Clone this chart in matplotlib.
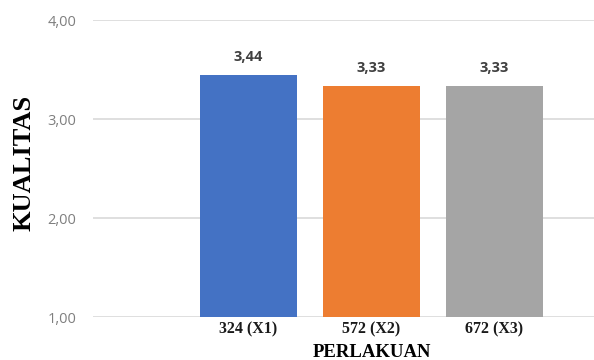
import matplotlib.pyplot as plt

# nilai rata-rata kualitas tiap perlakuan
perlakuan = ['324 (X1)', '572 (X2)', '672 (X3)']
kualitas = [3.44, 3.33, 3.33]
warna = ['#4472C4', '#ED7D31', '#A5A5A5']
yticks = [1, 2, 3, 4]

fig = plt.figure(figsize=(5.94, 3.6), dpi=100)
ax = fig.add_axes([0.1566, 0.1194, 0.8434, 0.825])

x = list(range(len(perlakuan)))
bars = ax.bar(x, kualitas, width=0.79, color=warna, bottom=0, zorder=2)

ax.set_ylim(1, 4)
ax.set_xlim(-1.264, 2.81)
ax.set_yticks(yticks)
ax.set_yticklabels([f'{v:.2f}'.replace('.', ',') for v in yticks],
                   fontsize=10.5, color='#7F7F7F', family='Open Sans')
ax.tick_params(axis='y', length=0, pad=12)
ax.grid(axis='y', color='#D9D9D9', linewidth=1.2, zorder=0)
for s in ax.spines.values():
    s.set_visible(False)

ax.set_xticks(x)
ax.set_xticklabels(perlakuan, fontsize=11.5, fontweight='bold',
                   family='Liberation Serif', color='#1a1a1a')
ax.tick_params(axis='x', length=0, pad=3)

# label nilai di atas batang
for xi, v in zip(x, kualitas):
    ax.annotate(f'{v:.2f}'.replace('.', ','), (xi, v), xytext=(0, 8),
                textcoords='offset points', ha='center', va='bottom',
                fontsize=10.5, fontweight='bold', color='#404040', family='Open Sans')

fig.text(0.04, 0.547, 'KUALITAS', rotation=90, ha='center', va='center',
         fontsize=19, fontweight='bold', family='Liberation Serif')
fig.text(0.627, 0.022, 'PERLAKUAN', ha='center', va='center',
         fontsize=13.5, fontweight='bold', family='Liberation Serif')

fig.savefig('out.png', dpi=100)
